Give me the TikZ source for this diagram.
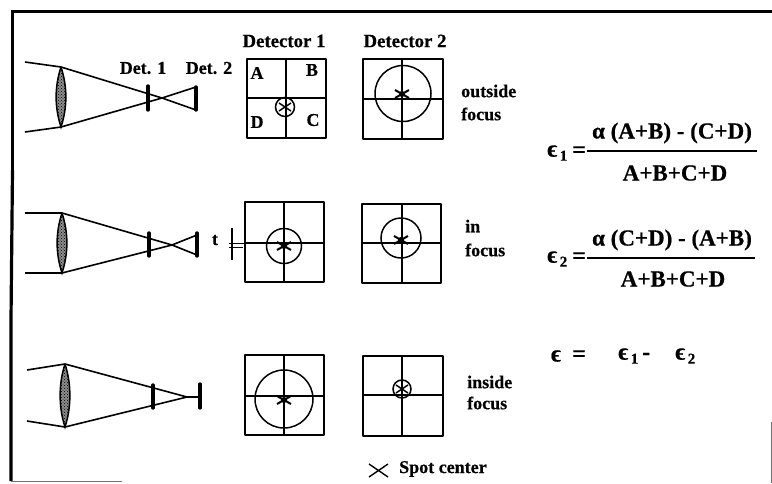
\documentclass[tikz,border=0pt]{standalone}
\usepackage{fontspec}
\setmainfont{Liberation Serif}[BoldFont={Liberation Serif Bold},BoldFeatures={FakeBold=0.6}]
\usetikzlibrary{patterns}
\tikzset{
  ray/.style={line width=1.6pt},
  det/.style={line width=3.4pt,line cap=round},
  box/.style={line width=2.6pt,line join=round},
  divider/.style={line width=2.1pt},
  ring/.style={line width=1.5pt},
  spot/.style={line width=1.4pt},
  lbl/.style={inner sep=0pt,font=\bfseries\fontsize{18}{18}\selectfont},
  hdr/.style={inner sep=0pt,font=\bfseries\fontsize{18.8}{19}\selectfont},
  eq/.style={inner sep=0pt,font=\bfseries\fontsize{23}{23}\selectfont},
  sym/.style={inner sep=0pt,font=\bfseries\fontsize{24}{24}\selectfont},
  lab/.style={lbl,anchor=west},
  frameline/.style={line width=3.2pt},
  thinframe/.style={line width=1pt,black!55}
}
\newcommand{\subnum}[1]{\raisebox{-4pt}{\fontsize{15}{15}\selectfont\,#1}}
% lens: centre x, top y, bottom y
\newcommand{\lensat}[3]{%
  \path[fill=black!45] (#1,#2) .. controls (#1-6.5,#2+20) and (#1-6.5,#3-20) .. (#1,#3) .. controls (#1+6.5,#3-20) and (#1+6.5,#2+20) .. (#1,#2);
  \path[pattern=crosshatch dots,pattern color=black] (#1,#2) .. controls (#1-6.5,#2+20) and (#1-6.5,#3-20) .. (#1,#3) .. controls (#1+6.5,#3-20) and (#1+6.5,#2+20) .. (#1,#2);
  \draw[line width=1.5pt] (#1,#2) .. controls (#1-6.5,#2+20) and (#1-6.5,#3-20) .. (#1,#3) .. controls (#1+6.5,#3-20) and (#1+6.5,#2+20) .. (#1,#2);
}
% detector box: left, top, right, bottom, cross x, cross y
\newcommand{\dbox}[6]{%
  \draw[box] (#1,#2) rectangle (#3,#4);
  \draw[divider] (#5,#2) -- (#5,#4) (#1,#6) -- (#3,#6);
}
% spot mark
\newcommand{\xmark}[2]{%
  \draw[line width=2pt] (#1-7,#2-4) -- (#1+7,#2+4) (#1-7,#2+4) -- (#1+7,#2-4);
  \fill (#1,#2) circle (3);
}
\begin{document}
\begin{tikzpicture}[x=1pt,y=-1pt]
\useasboundingbox (0,0) rectangle (772,483);
% frame
\draw[frameline] (12.5,170) -- (12.5,11.5) -- (772,11.5);
\draw[frameline] (12.5,170) -- (11,320) -- (11,481);
\draw[thinframe] (11,481) -- (122,481);
\draw[thinframe] (771,422) -- (771,483);

% ---------- row 1 optics
\coordinate (a1) at (25,62); \coordinate (a2) at (25,132);
\coordinate (l1) at (61,67); \coordinate (l2) at (61,127);
\coordinate (f1) at (162,98);
\coordinate (d21) at (196,87); \coordinate (d22) at (196,110);
\lensat{61}{67}{127}
\draw[ray] (a1) -- (l1) -- (f1) -- (d22) (a2) -- (l2) -- (f1) -- (d21);
\draw[det] (148,86) -- (148,110);
\draw[det] (d21) -- (d22);
\node[lbl] (det1) at (143,68) {Det. 1};
\node[lbl] (det2) at (209,68) {Det. 2};

% ---------- row 2 optics
\coordinate (b1) at (25,213); \coordinate (b2) at (25,273);
\coordinate (m1) at (62,213); \coordinate (m2) at (62,273);
\coordinate (g1) at (172,245);
\coordinate (e21) at (197,235); \coordinate (e22) at (197,255);
\lensat{62}{213}{273}
\draw[ray] (b1) -- (m1) -- (g1) -- (e22) (b2) -- (m2) -- (g1) -- (e21);
\draw[det] (149,233) -- (149,256);
\draw[det] (197,233) -- (197,256);
\node[lbl] (tlab) at (215,240) {t};
\draw[line width=1.8pt] (232,228) -- (232,260);
\draw[line width=1pt] (229,243) -- (245,243) (229,247) -- (243,247);

% ---------- row 3 optics
\coordinate (c1) at (27,370); \coordinate (c2) at (27,421);
\coordinate (n1) at (65,364); \coordinate (n2) at (65,427);
\coordinate (h1) at (187,397); \coordinate (h2) at (200,397);
\lensat{65}{364}{427}
\draw[ray] (c1) -- (n1) -- (h1) -- (h2) (c2) -- (n2) -- (h1);
\draw[det] (153,385) -- (153,408);
\draw[det] (200,384) -- (200,408);

% ---------- detector 1 column
\node[hdr] (head1) at (284,41) {Detector 1};
\dbox{247}{59}{326}{138}{286}{98}
\draw[ring] (285,107) circle (9.5);
\draw[ring] (279,103) -- (291,111) (279,111) -- (291,103);
\node[lbl] (A) at (257,73) {A};
\node[lbl] (B) at (312,70) {B};
\node[lbl] (D) at (257,122) {D};
\node[lbl] (C) at (313,120) {C};

\dbox{245}{202}{324}{282}{284}{243}
\draw[ring] (284,246) circle (17.5);
\xmark{284}{246}

\dbox{245}{355}{324}{435}{284}{396}
\draw[ring] (284,399) circle (29);
\xmark{284}{400}

% ---------- detector 2 column
\node[hdr] (head2) at (405,41) {Detector 2};
\dbox{363}{59}{443}{139}{402}{99}
\draw[ring] (403,93.5) circle (28);
\xmark{402}{94}

\dbox{362}{204}{441}{283}{402}{243}
\draw[ring] (401,238) circle (20);
\xmark{401}{240}

\dbox{363}{356}{443}{436}{402}{395}
\draw[ring] (402,389) circle (9);
\draw[ring] (396,385) -- (408,393) (396,393) -- (408,385);

% ---------- focus labels
\node[lab] (o1) at (461,91) {outside};
\node[lab] (o2) at (461,114) {focus};
\node[lab] (i1) at (465,226) {in};
\node[lab] (i2) at (465,250) {focus};
\node[lab] (n3) at (467,382) {inside};
\node[lab] (n4) at (467,403) {focus};

% ---------- equations
\node[sym,anchor=west] (e1) at (547,153) {ϵ\subnum{1}};
\node[sym] (e1q) at (579,152) {=};
\draw[line width=1.7pt] (587,151) -- (757,151);
\node[eq] (n1t) at (672,133) {α (A+B) - (C+D)};
\node[eq] (d1t) at (675,173) {A+B+C+D};

\node[sym,anchor=west] (e2) at (547,259) {ϵ\subnum{2}};
\node[sym] (e2q) at (579,258) {=};
\draw[line width=1.7pt] (587,258) -- (755,258);
\node[eq] (n2t) at (672,240) {α (C+D) - (A+B)};
\node[eq] (d2t) at (673,279) {A+B+C+D};

\node[sym] (e0) at (556,356) {ϵ};
\node[sym] (eqs) at (579,356) {=};
\node[sym,anchor=west] (e11) at (618,356) {ϵ\subnum{1}\,-};
\node[sym,anchor=west] (e22) at (675,356) {ϵ\subnum{2}};

% ---------- legend
\coordinate (x1) at (369,464); \coordinate (x2) at (388,477);
\coordinate (x3) at (369,477); \coordinate (x4) at (388,464);
\draw[spot] (x1) -- (x2) (x3) -- (x4);
\node[lab] (legend) at (399,469) {Spot center};
\end{tikzpicture}
\end{document}
